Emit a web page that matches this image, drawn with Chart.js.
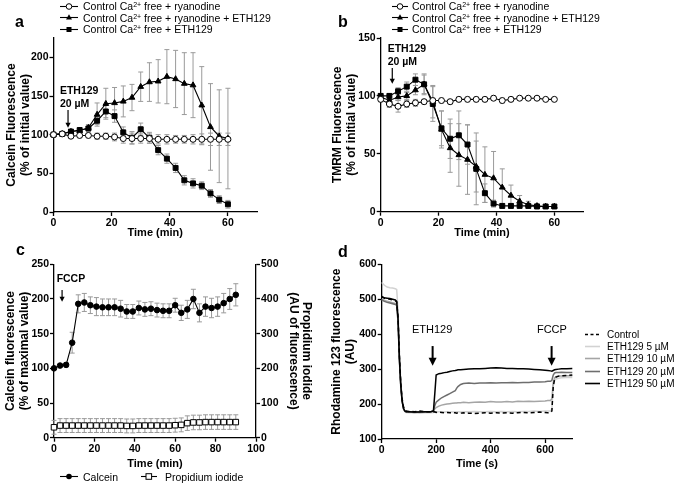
<!DOCTYPE html>
<html>
<head>
<meta charset="utf-8">
<script src="https://cdn.jsdelivr.net/npm/chart.js@4.4.1/dist/chart.umd.min.js"></script>
<style>
body{margin:0;background:#fff;width:675px;height:484px;overflow:hidden;position:relative;font-family:"Liberation Sans",Arial,sans-serif;color:#000}
.box{position:absolute}
.lbl{position:absolute;font-weight:bold;font-size:16px;line-height:16px}
.leg{position:absolute;font-size:10.5px;white-space:nowrap}
.row{display:flex;align-items:center;height:11.5px}
.row svg{flex:none}
sup{font-size:7px;vertical-align:3px;line-height:0}
</style>
</head>
<body>

<canvas id="chartA" class="box" width="337" height="240" style="left:0;top:0"></canvas>
<canvas id="chartB" class="box" width="350" height="240" style="left:325px;top:0"></canvas>
<canvas id="chartC" class="box" width="337" height="244" style="left:0;top:240px"></canvas>
<canvas id="chartD" class="box" width="350" height="244" style="left:325px;top:240px"></canvas>

<div class="lbl" style="left:15px;top:13.5px">a</div>
<div class="lbl" style="left:338px;top:13.5px">b</div>
<div class="lbl" style="left:16px;top:241.5px">c</div>
<div class="lbl" style="left:338px;top:243.5px">d</div>

<div class="leg" style="left:60px;top:0.3px">
  <div class="row"><svg width="23" height="11"><line x1="0" y1="5.5" x2="18" y2="5.5" stroke="#000" stroke-width="1.1"/><circle cx="9" cy="5.5" r="2.8" fill="#fff" stroke="#000"/></svg><span>Control Ca<sup>2+</sup> free + ryanodine</span></div>
  <div class="row"><svg width="23" height="11"><line x1="0" y1="5.5" x2="18" y2="5.5" stroke="#000" stroke-width="1.1"/><polygon points="9,2.3 12,7.6 6,7.6" fill="#000"/></svg><span>Control Ca<sup>2+</sup> free + ryanodine + ETH129</span></div>
  <div class="row"><svg width="23" height="11"><line x1="0" y1="5.5" x2="18" y2="5.5" stroke="#000" stroke-width="1.1"/><rect x="6.5" y="3" width="5" height="5" fill="#000"/></svg><span>Control Ca<sup>2+</sup> free + ETH129</span></div>
</div>

<div class="leg" style="left:392px;top:0.3px">
  <div class="row"><svg width="20" height="11"><line x1="0" y1="5.5" x2="16" y2="5.5" stroke="#000" stroke-width="1.1"/><circle cx="8" cy="5.5" r="2.8" fill="#fff" stroke="#000"/></svg><span>Control Ca<sup>2+</sup> free + ryanodine</span></div>
  <div class="row"><svg width="20" height="11"><line x1="0" y1="5.5" x2="16" y2="5.5" stroke="#000" stroke-width="1.1"/><polygon points="8,2.3 11,7.6 5,7.6" fill="#000"/></svg><span>Control Ca<sup>2+</sup> free + ryanodine + ETH129</span></div>
  <div class="row"><svg width="20" height="11"><line x1="0" y1="5.5" x2="16" y2="5.5" stroke="#000" stroke-width="1.1"/><rect x="5.5" y="3" width="5" height="5" fill="#000"/></svg><span>Control Ca<sup>2+</sup> free + ETH129</span></div>
</div>

<div class="leg" style="left:60px;top:471px">
  <div class="row"><svg width="23" height="11"><line x1="0" y1="5.5" x2="18" y2="5.5" stroke="#000" stroke-width="1.1"/><circle cx="9" cy="5.5" r="2.8" fill="#000"/></svg><span>Calcein</span>
  <svg width="24" height="11" style="margin-left:23px"><line x1="0" y1="5.5" x2="16" y2="5.5" stroke="#000" stroke-width="1.1"/><rect x="5" y="2.7" width="5.6" height="5.6" fill="#fff" stroke="#000"/></svg><span>Propidium iodide</span></div>
</div>

<div class="leg" style="left:585px;top:328.2px;font-size:10px">
  <div class="row" style="height:12.25px"><svg width="22" height="11"><line x1="0" y1="5.5" x2="15" y2="5.5" stroke="#000" stroke-width="1.6" stroke-dasharray="3,2.5"/></svg><span>Control</span></div>
  <div class="row" style="height:12.25px"><svg width="22" height="11"><line x1="0" y1="5.5" x2="15" y2="5.5" stroke="#d2d2d2" stroke-width="1.6"/></svg><span>ETH129 5 µM</span></div>
  <div class="row" style="height:12.25px"><svg width="22" height="11"><line x1="0" y1="5.5" x2="15" y2="5.5" stroke="#a5a5a5" stroke-width="1.6"/></svg><span>ETH129 10 µM</span></div>
  <div class="row" style="height:12.25px"><svg width="22" height="11"><line x1="0" y1="5.5" x2="15" y2="5.5" stroke="#6e6e6e" stroke-width="1.6"/></svg><span>ETH129 20 µM</span></div>
  <div class="row" style="height:12.25px"><svg width="22" height="11"><line x1="0" y1="5.5" x2="15" y2="5.5" stroke="#000" stroke-width="1.6"/></svg><span>ETH129 50 µM</span></div>
</div>

<script>
// panel a: calcein, time in min
var timeA = [0, 3, 6, 9, 12, 15, 18, 21, 24, 27, 30, 33, 36, 39, 42, 45, 48, 51, 54, 57, 60];
var aRyan = [100, 101, 98, 99, 99, 98, 98, 97, 95, 95, 95, 95, 94, 94, 94, 94, 94, 94, 94, 94, 94];
var aRyanErr = [0, 1, 2, 3, 3, 4, 4, 5, 6, 7, 6, 6, 6, 6, 5, 5, 6, 7, 8, 8, 8];
var aRyanEth = [100, 101, 104, 105, 109, 126, 140, 141, 143, 148, 162, 168, 169, 175, 172, 166, 164, 138, 110, 98, 95];
var aRyanEthErr = [0, 1, 2, 3, 4, 15, 20, 20, 20, 17, 19, 25, 28, 35, 37, 40, 42, 50, 56, 60, 65];
var aEth = [100, 101, 104, 106, 108, 118, 130, 124, 103, 96, 107, 96, 80, 69, 57, 41, 37, 34, 24, 16, 10];
var aEthErr = [0, 1, 2, 2, 3, 5, 8, 8, 7, 8, 8, 7, 6, 6, 6, 6, 6, 5, 5, 5, 5];

// panel b: TMRM, same time points
var bRyan = [97, 93, 91, 93, 94, 95, 96, 96, 95, 97, 97, 97, 97, 98, 96, 97, 98, 98, 98, 97, 97];
var bRyanErr = [2, 3, 5, 3, 3, 2, 2, 2, 2, 2, 2, 2, 2, 2, 2, 2, 1, 1, 1, 1, 1];
var bRyanEth = [99, 96, 99, 100, 105, 110, 95, 71, 55, 49, 45, 39, 32, 29, 21, 14, 9, 6, 5, 4.5, 4.5];
var bRyanEthErr = [2, 3, 3, 3, 4, 8, 14, 16, 21, 27, 30, 22, 24, 23, 16, 9, 5, 3, 2, 1, 1];
var bEth = [100, 100, 104, 108, 114, 110, 93, 72, 63, 66, 58, 37, 16, 7, 5, 5, 5, 5, 4.5, 4.5, 4.5];
var bEthErr = [2, 2, 3, 4, 5, 9, 15, 15, 17, 21, 17, 31, 8, 3, 2, 2, 1, 1, 1, 1, 1];

// panel c: calcein (left axis) and propidium iodide (right axis)
var timeC = [0, 3, 6, 9, 12, 15, 18, 21, 24, 27, 30, 33, 36, 39, 42, 45, 48, 51, 54, 57, 60, 63, 66, 69, 72, 75, 78, 81, 84, 87, 90];
var cCalcein = [100, 104, 105, 137, 193, 195, 191, 189, 188, 188, 188, 186, 182, 182, 187, 185, 186, 184, 183, 183, 191, 180, 185, 200, 180, 189, 187, 189, 194, 200, 206];
var cCalceinErr = [0, 2, 3, 15, 13, 13, 12, 13, 12, 12, 12, 12, 10, 10, 10, 10, 10, 10, 10, 10, 10, 11, 13, 14, 13, 14, 14, 14, 14, 15, 16];
var cPI = [30, 35, 35, 35, 35, 35, 35, 35, 35, 35, 35, 35, 34, 34, 35, 35, 35, 35, 35, 35, 36, 37, 42, 44, 44, 45, 45, 45, 45, 45, 45];
var cPIErr = [20, 20, 20, 20, 20, 20, 20, 20, 20, 20, 20, 20, 20, 20, 20, 20, 20, 20, 20, 20, 20, 20, 21, 21, 21, 21, 21, 21, 21, 21, 21];

// panel d: rhodamine 123 traces, time in s
var timeD = [0, 10, 20, 30, 40, 50, 55, 60, 65, 70, 75, 80, 85, 90, 100, 120, 140, 160, 180, 190, 195, 200, 210, 220, 230, 240, 250, 260, 270, 275, 280, 290, 300, 320, 340, 360, 380, 400, 420, 440, 460, 480, 500, 520, 540, 560, 580, 600, 610, 620, 625, 630, 635, 640, 650, 660, 680, 700];
var dControl = [508, 503, 502, 500, 498, 496, 492, 450, 340, 260, 215, 192, 182, 180, 179, 178, 180, 178, 178, 177, 178, 176, 177, 176, 175, 176, 175, 176, 175, 174, 175, 174, 175, 174, 173, 174, 175, 174, 175, 174, 175, 174, 175, 176, 175, 176, 177, 176, 175, 176, 180, 250, 272, 277, 280, 281, 282, 283];
var d5 = [548, 540, 535, 533, 532, 530, 528, 470, 350, 265, 215, 190, 180, 176, 175, 175, 174, 175, 175, 176, 177, 178, 178, 178, 177, 178, 178, 177, 178, 178, 178, 177, 178, 178, 179, 178, 178, 179, 178, 179, 178, 179, 178, 179, 179, 180, 179, 180, 180, 180, 186, 255, 268, 272, 274, 275, 276, 276];
var d10 = [500, 497, 494, 492, 490, 488, 485, 440, 330, 255, 210, 188, 180, 178, 178, 177, 178, 177, 178, 180, 186, 190, 194, 197, 199, 200, 201, 202, 203, 203, 204, 204, 205, 204, 205, 206, 205, 207, 206, 206, 207, 206, 208, 207, 208, 207, 208, 209, 210, 210, 215, 262, 275, 278, 280, 280, 281, 281];
var d20 = [498, 494, 491, 489, 487, 485, 482, 435, 325, 250, 208, 186, 179, 177, 177, 176, 177, 177, 177, 182, 195, 205, 212, 218, 222, 226, 230, 234, 238, 245, 250, 256, 259, 260, 259, 260, 260, 261, 260, 261, 261, 262, 261, 262, 262, 263, 263, 264, 265, 265, 268, 283, 289, 290, 290, 291, 290, 290];
var d50 = [506, 504, 503, 502, 500, 498, 494, 445, 330, 255, 208, 188, 180, 178, 178, 177, 177, 178, 178, 180, 230, 283, 287, 288, 290, 291, 293, 295, 296, 297, 298, 298, 299, 300, 301, 301, 302, 303, 304, 303, 302, 302, 301, 301, 300, 299, 298, 297, 296, 295, 294, 296, 298, 299, 300, 301, 301, 302];

Chart.defaults.font.family = '"Liberation Sans", Arial, sans-serif';
Chart.defaults.color = '#000';
Chart.defaults.animation = false;

function pts(xs, ys) {
	return xs.map(function(x, i) { return {x: x, y: ys[i]}; });
}

// vertical SEM bars, drawn under the lines
var errorBars = {
	id: 'errorBars',
	beforeDatasetsDraw: function(chart) {
		var ctx = chart.ctx;
		chart.data.datasets.forEach(function(ds, i) {
			if (!ds.errors) return;
			var meta = chart.getDatasetMeta(i);
			ctx.save();
			ctx.strokeStyle = '#9a9a9a';
			ctx.lineWidth = 1;
			ds.data.forEach(function(p, j) {
				var e = ds.errors[j];
				if (!e) return;
				var x = meta.xScale.getPixelForValue(p.x);
				var top = meta.yScale.getPixelForValue(p.y + e);
				var bot = meta.yScale.getPixelForValue(p.y - e);
				ctx.beginPath();
				ctx.moveTo(x, top); ctx.lineTo(x, bot);
				ctx.moveTo(x - 2.5, top); ctx.lineTo(x + 2.5, top);
				ctx.moveTo(x - 2.5, bot); ctx.lineTo(x + 2.5, bot);
				ctx.stroke();
			});
			ctx.restore();
		});
	}
};

// arrows + labels placed in data units
var notes = {
	id: 'notes',
	afterDatasetsDraw: function(chart, args, opts) {
		var ctx = chart.ctx, xs = chart.scales.x, ys = chart.scales.y;
		(opts.items || []).forEach(function(n) {
			var x = xs.getPixelForValue(n.x);
			var tail = ys.getPixelForValue(n.tail), tip = ys.getPixelForValue(n.tip);
			ctx.save();
			ctx.strokeStyle = '#000';
			ctx.fillStyle = '#000';
			ctx.lineWidth = n.lw;
			ctx.beginPath();
			ctx.moveTo(x, tail); ctx.lineTo(x, tip - n.hl + 1);
			ctx.stroke();
			ctx.beginPath();
			ctx.moveTo(x - n.hw, tip - n.hl); ctx.lineTo(x + n.hw, tip - n.hl); ctx.lineTo(x, tip);
			ctx.closePath();
			ctx.fill();
			ctx.font = n.font;
			ctx.textAlign = n.align;
			ctx.textBaseline = 'middle';
			n.labels.forEach(function(l) {
				ctx.fillText(l.text, xs.getPixelForValue(l.x), ys.getPixelForValue(l.y));
			});
			ctx.restore();
		});
	}
};

function axis(o) {
	return {
		type: 'linear',
		position: o.position,
		min: o.min,
		max: o.max,
		afterBuildTicks: function(scale) {
			scale.ticks = scale.ticks.filter(function(t) { return t.value % o.step === 0; });
		},
		afterFit: function(scale) {
			if (o.width) scale.width = o.width;
			if (o.height) scale.height = o.height;
		},
		border: {display: true, color: '#000', width: 1.3},
		grid: {display: true, drawOnChartArea: false, drawTicks: true, tickLength: 4, tickWidth: 1.3, tickColor: '#000'},
		ticks: {stepSize: o.step, padding: 1, autoSkip: false, maxRotation: 0, color: '#000', font: {size: 10.5, weight: 'bold'}},
		title: {display: true, text: o.title, color: '#000', font: {size: o.titleSize, weight: 'bold', lineHeight: 1.15}, padding: o.titlePad}
	};
}

function markerSet(data, errors, style, radius, fill) {
	return {
		data: data,
		errors: errors,
		borderColor: '#000',
		borderWidth: 1.1,
		pointStyle: style,
		pointRadius: radius,
		pointBackgroundColor: fill,
		pointBorderColor: '#000',
		pointBorderWidth: 1,
		clip: false
	};
}

function traceSet(data, color, dash) {
	return {
		data: data,
		borderColor: color,
		borderWidth: 1.5,
		borderDash: dash || [],
		pointRadius: 0,
		clip: false
	};
}

function baseOptions(padding, scales, items) {
	return {
		responsive: false,
		events: [],
		layout: {padding: padding},
		scales: scales,
		plugins: {
			legend: {display: false},
			tooltip: {enabled: false},
			notes: {items: items}
		}
	};
}

new Chart(document.getElementById('chartA'), {
	type: 'line',
	data: {datasets: [
		markerSet(pts(timeA, aRyan), aRyanErr, 'circle', 3, '#fff'),
		markerSet(pts(timeA, aRyanEth), aRyanEthErr, 'triangle', 3.3, '#000'),
		markerSet(pts(timeA, aEth), aEthErr, 'rect', 3.5, '#000')
	]},
	options: baseOptions({left: 0, top: 38, right: 80, bottom: 0}, {
		x: axis({min: 0, max: 70, step: 20, height: 28, title: 'Time (min)', titleSize: 11, titlePad: {top: 0, bottom: 0.7}}),
		y: axis({min: 0, max: 225, step: 50, width: 53.5, title: ['Calcein Fluorescence', '(% of initial value)'], titleSize: 12, titlePad: {top: 4.6, bottom: 0}})
	}, [
		{x: 5, tail: 132, tip: 109, lw: 1.2, hw: 2.6, hl: 5, font: 'bold 10.5px "Liberation Sans"', align: 'left',
			labels: [{x: 2.2, y: 156.5, text: 'ETH129'}, {x: 2.2, y: 139.7, text: '20 µM'}]}
	]),
	plugins: [errorBars, notes]
});

new Chart(document.getElementById('chartB'), {
	type: 'line',
	data: {datasets: [
		markerSet(pts(timeA, bRyan), bRyanErr, 'circle', 3, '#fff'),
		markerSet(pts(timeA, bRyanEth), bRyanEthErr, 'triangle', 3.3, '#000'),
		markerSet(pts(timeA, bEth), bEthErr, 'rect', 3.5, '#000')
	]},
	options: baseOptions({left: 0, top: 38, right: 91.7, bottom: 0}, {
		x: axis({min: 0, max: 70, step: 20, height: 28.3, title: 'Time (min)', titleSize: 11, titlePad: {top: 0, bottom: 0.4}}),
		y: axis({min: 0, max: 150, step: 50, width: 55.7, title: ['TMRM Fluorescence', '(% of initial value)'], titleSize: 12, titlePad: {top: 6, bottom: 0}})
	}, [
		{x: 4, tail: 124, tip: 110.5, lw: 1.2, hw: 2.6, hl: 5, font: 'bold 10.5px "Liberation Sans"', align: 'left',
			labels: [{x: 2.4, y: 140.5, text: 'ETH129'}, {x: 2.4, y: 128.8, text: '20 µM'}]}
	]),
	plugins: [errorBars, notes]
});

var calceinSet = markerSet(pts(timeC, cCalcein), cCalceinErr, 'circle', 2.8, '#000');
var piSet = markerSet(pts(timeC, cPI), cPIErr, 'rect', 3.9, '#fff');
piSet.yAxisID = 'y2';

new Chart(document.getElementById('chartC'), {
	type: 'line',
	data: {datasets: [calceinSet, piSet]},
	options: baseOptions({left: 0, top: 24.3, right: 0, bottom: 0}, {
		x: axis({min: 0, max: 100, step: 20, height: 46.3, title: 'Time (min)', titleSize: 11, titlePad: {top: 0, bottom: 13.7}}),
		y: axis({position: 'left', min: 0, max: 250, step: 50, width: 54, title: ['Calcein fluorescence', '(% of maximal value)'], titleSize: 12, titlePad: {top: 4, bottom: 0}}),
		y2: axis({position: 'right', min: 0, max: 500, step: 100, width: 81, title: ['Propidium iodide', '(AU of fluorescence)'], titleSize: 12, titlePad: {top: 23.4, bottom: 0}})
	}, [
		{x: 4, tail: 213, tip: 196, lw: 1.2, hw: 2.6, hl: 5, font: 'bold 10.5px "Liberation Sans"', align: 'left',
			labels: [{x: 1.3, y: 228.4, text: 'FCCP'}]}
	]),
	plugins: [errorBars, notes]
});

new Chart(document.getElementById('chartD'), {
	type: 'line',
	data: {datasets: [
		traceSet(pts(timeD, dControl), '#000', [4, 3]),
		traceSet(pts(timeD, d50), '#000'),
		traceSet(pts(timeD, d20), '#6e6e6e'),
		traceSet(pts(timeD, d10), '#a5a5a5'),
		traceSet(pts(timeD, d5), '#d2d2d2')
	]},
	options: baseOptions({left: 0, top: 24.3, right: 102.7, bottom: 0}, {
		x: axis({min: 0, max: 700, step: 200, height: 45, title: 'Time (s)', titleSize: 11, titlePad: {top: 0, bottom: 13.7}}),
		y: axis({min: 100, max: 600, step: 100, width: 56.7, title: ['Rhodamine 123 fluorescence', '(AU)'], titleSize: 12, titlePad: {top: 5, bottom: 0}})
	}, [
		{x: 187, tail: 366, tip: 310, lw: 2, hw: 4, hl: 8, font: '11px "Liberation Sans"', align: 'center',
			labels: [{x: 185, y: 412, text: 'ETH129'}]},
		{x: 624, tail: 366, tip: 310, lw: 2, hw: 4, hl: 8, font: '11px "Liberation Sans"', align: 'center',
			labels: [{x: 625, y: 412, text: 'FCCP'}]}
	]),
	plugins: [notes]
});
</script>
</body>
</html>
